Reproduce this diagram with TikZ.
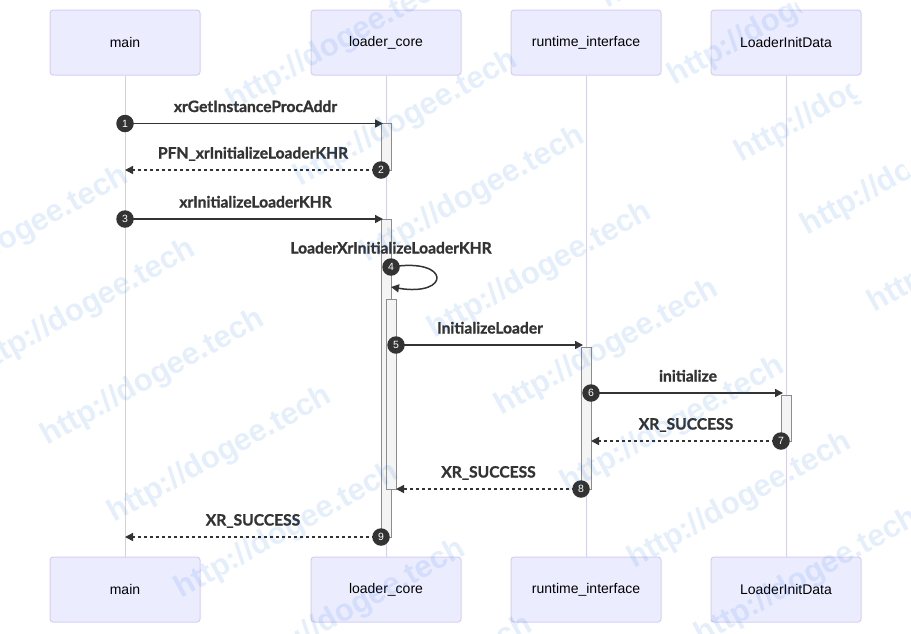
\documentclass[tikz,border=0pt]{standalone}
\usepackage{fontspec}
\setmainfont{Liberation Sans}
\newfontfamily\lblfont{Lato}[BoldFeatures={FakeBold=1.2}]
\usetikzlibrary{arrows.meta}
\definecolor{actorbg}{HTML}{ECECFF}
\definecolor{actorbd}{HTML}{D6CEF3}
\definecolor{lifec}{HTML}{D3CDEF}
\definecolor{ink}{HTML}{333333}
\definecolor{actbd}{HTML}{8C8C8C}
\definecolor{actfill}{HTML}{F4F4F4}
\definecolor{wmblue}{HTML}{0066E6}
\begin{document}
\begin{tikzpicture}[x=1pt,y=-1pt,
  actor/.style={draw=actorbd, fill=actorbg, line width=1pt, rounded corners=3pt,
    minimum width=150pt, minimum height=65pt, inner sep=0pt, text=black,
    font=\fontsize{14}{16}\selectfont},
  life/.style={draw=lifec, line width=1pt},
  actbox/.style={draw=actbd, fill=actfill, line width=1pt},
  msg/.style={draw=ink, line width=1.5pt, -{Triangle[length=8pt,width=8pt]}},
  reply/.style={msg, dash pattern=on 3pt off 3pt},
  seqnum/.style={circle, fill=ink, text=white, inner sep=0pt, minimum size=17.5pt,
    font=\fontsize{10.5}{10.5}\selectfont},
  lbl/.style={anchor=base, text=ink, font=\lblfont\bfseries\fontsize{15.6}{18}\selectfont},
  wm/.style={rotate=29, text=wmblue, text opacity=0.1, inner sep=0pt,
    font=\bfseries\fontsize{31}{36}\selectfont}
]
\useasboundingbox (0,0) rectangle (911,633);

% actors
\node[actor] (mainT) at (125,42.5) {main};
\node[actor] (coreT) at (386,42.5) {loader\_core};
\node[actor] (rtT)   at (586,42.5) {runtime\_interface};
\node[actor] (lidT)  at (786,42.5) {LoaderInitData};
\node[actor] (mainB) at (125,589.5) {main};
\node[actor] (coreB) at (386,589.5) {loader\_core};
\node[actor] (rtB)   at (586,589.5) {runtime\_interface};
\node[actor] (lidB)  at (786,589.5) {LoaderInitData};

% lifelines
\draw[life] (mainT) -- (mainB);
\draw[life] (coreT) -- (coreB);
\draw[life] (rtT) -- (rtB);
\draw[life] (lidT) -- (lidB);

% activations
\draw[actbox] (381,123.5) rectangle (391,170);
\draw[actbox] (381,219) rectangle (391,537);
\draw[actbox] (386,299) rectangle (396,489);
\draw[actbox] (581,347) rectangle (591,489);
\draw[actbox] (781,395) rectangle (791,441);

% message end points
\coordinate (m1s) at (125,123.5); \coordinate (m1e) at (383,123.5);
\coordinate (m2s) at (381,170);   \coordinate (m2e) at (125,170);
\coordinate (m3s) at (125,219);   \coordinate (m3e) at (383,219);
\coordinate (m4s) at (391,267);   \coordinate (m4e) at (391,287);
\coordinate (c4a) at (451,257);   \coordinate (c4b) at (451,297);
\coordinate (m5s) at (396,345);   \coordinate (m5e) at (583,345);
\coordinate (m6s) at (591,393);   \coordinate (m6e) at (783,393);
\coordinate (m7s) at (781,441);   \coordinate (m7e) at (591,441);
\coordinate (m8s) at (581,489);   \coordinate (m8e) at (396,489);
\coordinate (m9s) at (381,537);   \coordinate (m9e) at (125,537);

% messages
\draw[msg] (m1s) -- (m1e);
\draw[reply] (m2s) -- (m2e);
\draw[msg] (m3s) -- (m3e);
\draw[msg] (m4s) .. controls (c4a) and (c4b) .. (m4e);
\draw[msg] (m5s) -- (m5e);
\draw[msg] (m6s) -- (m6e);
\draw[reply] (m7s) -- (m7e);
\draw[reply] (m8s) -- (m8e);
\draw[reply] (m9s) -- (m9e);

% sequence numbers
\node[seqnum] (n1) at (m1s) {1};
\node[seqnum] (n2) at (m2s) {2};
\node[seqnum] (n3) at (m3s) {3};
\node[seqnum] (n4) at (m4s) {4};
\node[seqnum] (n5) at (m5s) {5};
\node[seqnum] (n6) at (m6s) {6};
\node[seqnum] (n7) at (m7s) {7};
\node[seqnum] (n8) at (m8s) {8};
\node[seqnum] (n9) at (m9s) {9};

% labels
\node[lbl] (l1) at (255.5,112) {xrGetInstanceProcAddr};
\node[lbl] (l2) at (253,158.5) {PFN\_xrInitializeLoaderKHR};
\node[lbl] (l3) at (255.5,207.5) {xrInitializeLoaderKHR};
\node[lbl] (l4) at (391,253.5) {LoaderXrInitializeLoaderKHR};
\node[lbl] (l5) at (490,333.5) {InitializeLoader};
\node[lbl] (l6) at (688,381.5) {initialize};
\node[lbl] (l7) at (686,429.5) {XR\_SUCCESS};
\node[lbl] (l8) at (488.5,477.5) {XR\_SUCCESS};
\node[lbl] (l9) at (253,525.5) {XR\_SUCCESS};

% watermark
\foreach \sx/\sy [count=\i] in {-93/307,-26/380,43/450,110/527,177/603,244/680,311/756,
   229/115,296/191,363/267,430/343,497/420,563/497,630/573,697/649}
  \node[wm] (wa\i) at (\sx+110,\sy-72) {http://dogee.tech};
\begin{scope}
  \clip (-50,-50) -- (761,-50) -- (961,252) -- (961,700) -- (-50,700) -- cycle;
  \foreach \sx/\sy [count=\i] in {603/13,670/90,737/167,803/240,870/317}
    \node[wm] (wb\i) at (\sx+110,\sy-72) {http://dogee.tech};
\end{scope}
\end{tikzpicture}
\end{document}
